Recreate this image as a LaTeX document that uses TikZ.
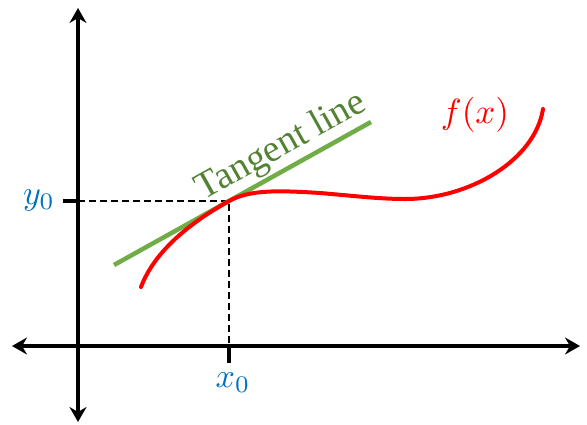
\documentclass[tikz,border=0pt]{standalone}
\usepackage{fontspec}
\setmainfont{Liberation Serif}
\usetikzlibrary{arrows.meta}
\definecolor{lblblue}{HTML}{0070C0}
\definecolor{tgreen}{HTML}{70AD47}
\definecolor{tdgreen}{HTML}{548235}
\definecolor{fred}{HTML}{FF0000}
\tikzset{
  axis2/.style={line width=4.5pt, {Stealth[length=15pt,width=17pt,inset=5pt]}-{Stealth[length=15pt,width=17pt,inset=5pt]}},
  tick/.style={line width=3.5pt},
  guide/.style={line width=2pt, dash pattern=on 7pt off 4pt},
  tangent/.style={line width=4.5pt, tgreen},
  func/.style={line width=4pt, fred, line cap=round},
  lbl/.style={text=lblblue, scale=3.4, inner sep=0pt},
}
\begin{document}
\begin{tikzpicture}[x=1pt,y=-1pt]
\useasboundingbox (0,0) rectangle (587,424);
% axes
\coordinate (yt) at (78,8);
\coordinate (yb) at (78,422);
\coordinate (xl) at (12,346);
\coordinate (xr) at (580,346);
\draw[axis2] (yb) -- (yt);
\draw[axis2] (xl) -- (xr);
% point
\coordinate (P) at (229,201);
\coordinate (Py) at (78,201);
\coordinate (Px) at (229,346);
\coordinate (ty) at (63,201);
\coordinate (tx) at (229,363);
\draw[guide] (Py) -- (P) -- (Px);
\draw[tick] (ty) -- (Py);
\draw[tick] (Px) -- (tx);
% tangent
\coordinate (t1) at (114,265);
\coordinate (t2) at (371,122);
\draw[tangent] (t1) -- (t2);
% function
\coordinate (f0) at (141,287);
\coordinate (fm) at (320,193);
\coordinate (fl) at (405,199);
\coordinate (f1) at (543,109);
\draw[func] (f0) .. controls (155,250) and (192,221.6) .. (P)
  .. controls (250,189.3) and (280,190.5) .. (fm)
  .. controls (355,196) and (380,199) .. (fl)
  .. controls (470,199) and (535,160) .. (f1);
% labels
\node[lbl] (ylab) at (39,200) {$y_0$};
\node[lbl] (xlab) at (233,383) {$x_0$};
\node[text=fred, scale=3.5, inner sep=0pt] (flab) at (475,115) {$f(x)$};
\node[text=tdgreen, font=\fontsize{38}{44}\selectfont, rotate=29.1, inner sep=0pt, anchor=base] (tlab) at (286,155) {Tangent line};
\end{tikzpicture}
\end{document}
